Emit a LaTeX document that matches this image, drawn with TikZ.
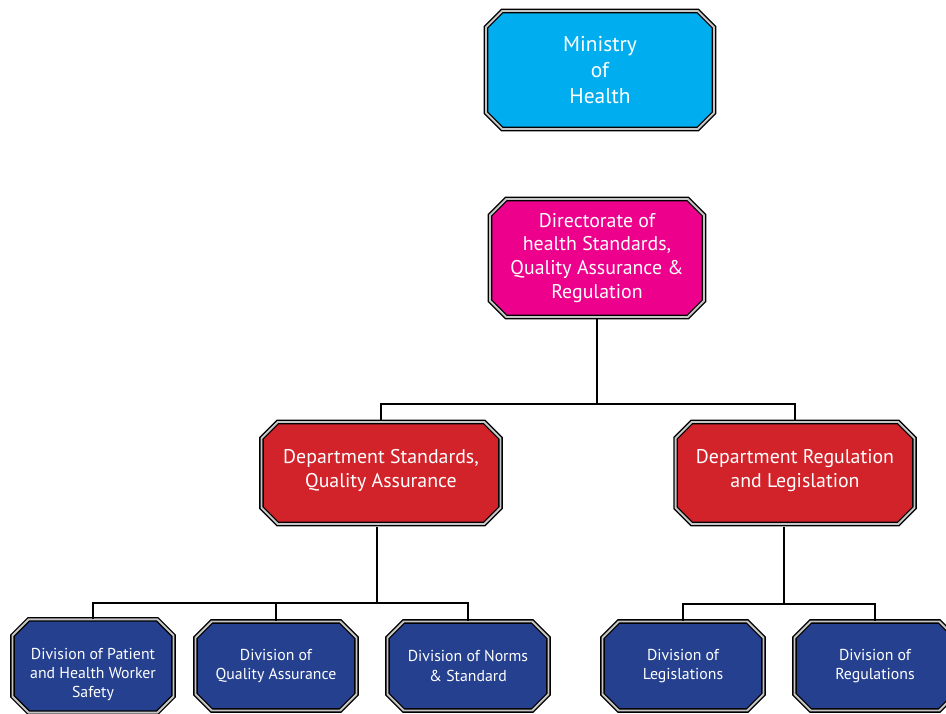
\documentclass[tikz,border=0pt]{standalone}
\usepackage{fontspec}
\setmainfont{PT Sans}
\usetikzlibrary{shapes.misc}
\definecolor{ministry}{HTML}{00AEEF}
\definecolor{directorate}{HTML}{EC008C}
\definecolor{department}{HTML}{D2232A}
\definecolor{division}{HTML}{25408F}

\begin{document}
\begin{tikzpicture}[x=0.02cm,y=-0.02cm,
    orgbox/.style={chamfered rectangle, chamfered rectangle xsep=4.6pt, chamfered rectangle ysep=4.6pt,
        draw=black, line width=0.75pt, double=gray!45, double distance=1.1pt,
        text=white, align=center, inner sep=2pt},
    toplevel/.style={orgbox, fill=ministry, minimum width=4.56cm, minimum height=2.36cm,
        font=\fontsize{12.2}{14.8}\selectfont},
    dirbox/.style={orgbox, fill=directorate, minimum width=4.28cm, minimum height=2.36cm,
        font=\fontsize{11.3}{13.6}\selectfont},
    deptbox/.style={orgbox, fill=department, minimum width=4.78cm, minimum height=2.04cm,
        font=\fontsize{11.3}{13.6}\selectfont},
    divbox/.style={orgbox, fill=division, minimum width=3.22cm, minimum height=1.78cm,
        font=\fontsize{9}{11}\selectfont},
    link/.style={draw=black, line width=0.8pt}]
    \useasboundingbox (0,0) rectangle (946,713);
    \node[toplevel] at (600,70) (moh) {Ministry\\of\\Health};
    \node[dirbox] at (597,258) (dir) {Directorate of\\health Standards,\\Quality Assurance \&\\Regulation};
    \node[deptbox] at (381,473) (dsqa) {Department Standards,\\Quality Assurance\\[-8pt]};
    \node[deptbox] at (795,473) (drl) {Department Regulation\\and Legislation\\[-8pt]};
    \node[divbox] at (93,666) (dpat) {\rule{0pt}{16pt}Division of Patient\\and Health Worker\\Safety};
    \node[divbox] at (276,666) (dqa) {Division of\\Quality Assurance};
    \node[divbox] at (468,666) (dnorm) {Division of Norms\\\& Standard};
    \node[divbox] at (683,666) (dleg) {Division of\\Legislations};
    \node[divbox] at (875,666) (dreg) {Division of\\Regulations};
    % directorate to departments
    \draw[link] (dir.south) -- (597,404) coordinate (j1);
    \draw[link] (j1) -| (dsqa.north);
    \draw[link] (j1) -| (drl.north);
    % standards and quality assurance divisions
    \draw[link] (377,527) coordinate (s1) -- (377,603) coordinate (j2);
    \draw[link] (j2) -| (dpat.north);
    \draw[link] (j2) -| (dqa.north);
    \draw[link] (j2) -| (dnorm.north);
    % regulation and legislation divisions
    \draw[link] (784,527) coordinate (s2) -- (784,604) coordinate (j3);
    \draw[link] (j3) -| (dleg.north);
    \draw[link] (j3) -| (dreg.north);
\end{tikzpicture}
\end{document}
